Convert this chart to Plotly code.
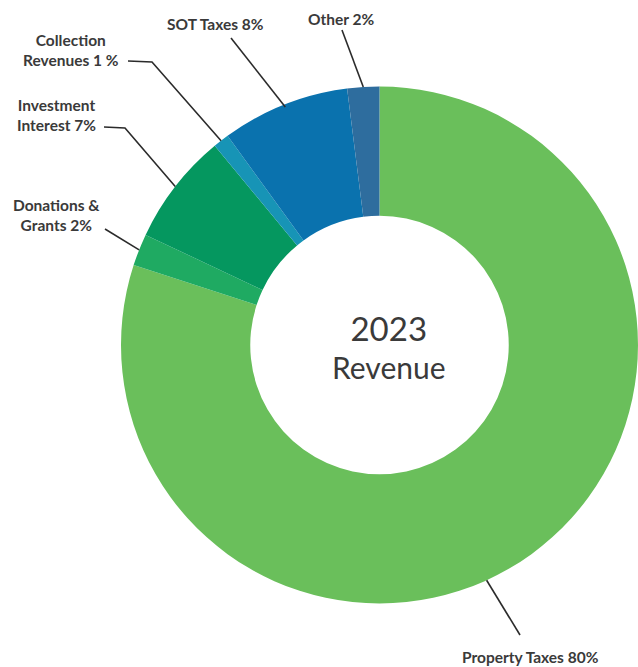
import math
import plotly.graph_objects as go

# Revenue breakdown, in drawing order (clockwise from 12 o'clock)
categories = ["Property Taxes", "Donations & Grants", "Investment Interest",
              "Collection Revenues", "SOT Taxes", "Other"]
shares = [80, 2, 7, 1, 8, 2]
label_texts = ["Property Taxes 80%", "Donations &<br>Grants 2%",
               "Investment<br>Interest 7%", "Collection<br>Revenues 1 %",
               "SOT Taxes 8%", "Other 2%"]
colors = ["#6abf5b", "#1faa62", "#05975f", "#1794b6", "#0a72ae", "#2e6d9e"]

W, H = 638, 667
INK = "#3a3a3a"
FONT = "Lato"

# donut placement in pixels
cx, cy, r = 379.5, 345.0, 258.5
hole = 0.5


def px(x):
    return x / W


def py(y):
    return 1 - y / H


fig = go.Figure(go.Pie(
    labels=categories,
    values=shares,
    sort=False,
    direction="clockwise",
    rotation=0,
    hole=hole,
    marker=dict(colors=colors, line=dict(width=0)),
    textinfo="none",
    hoverinfo="label+percent",
    showlegend=False,
    domain=dict(x=[px(cx - r), px(cx + r)], y=[py(cy + r), py(cy - r)]),
))

# label placement (text centre, leader-line start points) and where along
# the slice the leader touches the ring (0 = slice start, 1 = slice end)
label_pos = [(530, 657), (57, 215), (57, 115), (71, 50), (215, 24), (341, 19)]
leader_from = [[(520, 635)], [(105, 229)], [(104, 127), (125, 128)],
               [(128, 61), (152, 62)], [(231, 38)], [(342, 30)]]
anchor_frac = [0.54, 0.5, 0.5, 0.5, 0.5, 0.5]
anchor_rad = [1.0, 1.0, 1.0, 1.0, 0.99, 1.0]

total = sum(shares)
start = 0.0
shapes = []
annotations = []
for i, v in enumerate(shares):
    ang = (start + anchor_frac[i] * v) / total * 360.0
    start += v
    a = math.radians(ang)
    tx = cx + r * anchor_rad[i] * math.sin(a)
    ty = cy - r * anchor_rad[i] * math.cos(a)
    pts = leader_from[i] + [(tx, ty)]
    path = "M " + " L ".join(f"{px(x):.5f},{py(y):.5f}" for x, y in pts)
    shapes.append(dict(type="path", xref="paper", yref="paper", path=path,
                       line=dict(color="#2b2b2b", width=1.6)))
    lx, ly = label_pos[i]
    annotations.append(dict(
        x=px(lx), y=py(ly), xref="paper", yref="paper",
        text=label_texts[i], showarrow=False, xanchor="center", yanchor="middle",
        align="center",
        font=dict(family=FONT, size=15.5, color=INK, weight="bold"),
    ))

# centre title: one block, line spacing set by the base size
annotations.append(dict(
    x=px(389), y=py(346), xref="paper", yref="paper",
    text=("<span style='font-size:33px'>2023</span><br>"
          "<span style='font-size:30px'>Revenue</span>"),
    showarrow=False, xanchor="center", yanchor="middle", align="center",
    font=dict(family=FONT, size=29.5, color=INK),
))

fig.update_layout(
    width=W, height=H,
    margin=dict(l=0, r=0, t=0, b=0),
    paper_bgcolor="white",
    plot_bgcolor="white",
    shapes=shapes,
    annotations=annotations,
)

fig.write_html("out.html")
